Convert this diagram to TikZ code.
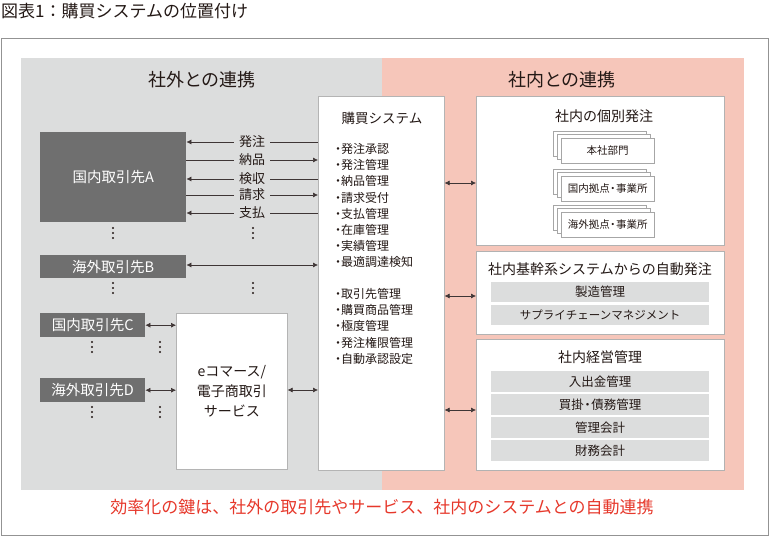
\documentclass[tikz,border=0pt]{standalone}
\usepackage{fontspec}
\setmainfont{Noto Sans CJK JP}
\usetikzlibrary{arrows.meta}

\definecolor{outgray}{HTML}{DCDDDD}
\definecolor{inpink}{HTML}{F6C6BA}
\definecolor{suppgray}{HTML}{6F6F6F}
\definecolor{inkdark}{HTML}{231815}
\definecolor{linkcol}{HTML}{3E3535}
\definecolor{edgegray}{HTML}{B4B4B4}
\definecolor{keyred}{HTML}{E6382B}

\newcommand\fsz[1]{\fontsize{#1}{#1}\selectfont}
\newcommand\dotstack[2]{\fill[inkdark] (#1,#2-5) circle (1.1pt) (#1,#2) circle (1.1pt) (#1,#2+5) circle (1.1pt);}
\newcommand\tightdot{\kern-0.2em・\kern-0.2em}

\tikzset{
  supp/.style={fill=suppgray, text=white, anchor=north west, inner sep=0pt, font=\fsz{14.5}},
  panel/.style={draw=edgegray, line width=0.6pt, fill=white, anchor=north west, inner sep=0pt},
  bar/.style={fill=outgray, anchor=north west, inner sep=0pt, minimum width=218pt, minimum height=21pt, font=\fsz{12.5}, text=inkdark},
  doc/.style={draw=gray!70, fill=white, anchor=north west, inner sep=0pt, minimum width=93pt, minimum height=25pt, font=\fsz{10.5}, text=inkdark},
  flow/.style={draw=linkcol, line width=0.6pt, -{Latex[length=5pt,width=5pt]}},
  twoway/.style={draw=linkcol, line width=0.6pt, {Latex[length=5pt,width=5pt]}-{Latex[length=5pt,width=5pt]}},
  flowlbl/.style={fill=outgray, inner xsep=5pt, inner ysep=0pt, font=\fsz{13}, text=inkdark},
  ttl/.style={font=\fsz{14}, text=inkdark},
  item/.style={anchor=west, inner sep=0pt, font=\fsz{12}, text=inkdark},
}

\begin{document}
\begin{tikzpicture}[x=1pt,y=-1pt]
\useasboundingbox (0,0) rectangle (769,537);
\node[anchor=west, inner sep=0pt, font=\fsz{17}, text=inkdark] (title) at (1,11) {図表1：購買システムの位置付け};
\draw[draw=gray!85, line width=0.8pt] (1,38) rectangle (768,535);
\fill[outgray] (21,58) rectangle (382,490);
\fill[inpink] (382,58) rectangle (744,490);
\node[font=\fsz{18}, text=inkdark] (outhead) at (202,80) {社外との連携};
\node[font=\fsz{18}, text=inkdark] (inhead) at (562,80) {社内との連携};

% suppliers
\node[supp, minimum width=146pt, minimum height=90pt] (supA) at (40,132) {国内取引先A};
\node[supp, minimum width=146pt, minimum height=23pt] (supB) at (40,255) {海外取引先B};
\node[supp, minimum width=105pt, minimum height=24pt] (supC) at (40,313) {国内取引先C};
\node[supp, minimum width=105pt, minimum height=24pt] (supD) at (40,378) {海外取引先D};
\node[panel, minimum width=111pt, minimum height=156pt, align=center, font=\fontsize{14}{20}\selectfont, text=inkdark] (ecom) at (176,313) {eコマース/\\電子商取引\\サービス};

% purchasing system
\node[panel, minimum width=126pt, minimum height=374pt] (sys) at (318,96) {};
\node[font=\fsz{13.5}, text=inkdark] (syshead) at (382,118) {購買システム};
\foreach \t [count=\i from 0] in {発注承認,発注管理,納品管理,請求受付,支払管理,在庫管理,実績管理,最適調達検知}
  \node[item] at (332,149+16.15*\i) {・\kern-3pt\t};
\foreach \t [count=\i from 0] in {取引先管理,購買商品管理,極度管理,発注権限管理,自動承認設定}
  \node[item] at (332,294+16.15*\i) {・\kern-3pt\t};

% in-house side
\node[panel, draw=gray!60, minimum width=248pt, minimum height=149pt] (ownOrder) at (476,96) {};
\node[ttl] at (604,116) {社内の個別発注};
\foreach \y/\t/\n in {138/本社部門/docHQ, 176/国内拠点\tightdot 事業所/docDom, 212/海外拠点\tightdot 事業所/docAbr} {
  \filldraw[draw=gray!70, fill=white] (553,\y-7) rectangle ++(93,25);
  \filldraw[draw=gray!70, fill=white] (557,\y-3.5) rectangle ++(93,25);
  \node[doc] (\n) at (561,\y) {\t};
}
\node[panel, draw=gray!60, minimum width=248pt, minimum height=83pt] (coreOrder) at (476,251) {};
\node[ttl] at (600,269) {社内基幹系システムからの自動発注};
\node[bar, minimum height=20pt] (mfg) at (491,282) {製造管理};
\node[bar, minimum height=20pt, font=\fsz{11.5}] (scm) at (491,305) {サプライチェーンマネジメント};
\node[panel, draw=gray!60, minimum width=248pt, minimum height=131pt] (mgmt) at (476,339) {};
\node[ttl] at (600,357) {社内経営管理};
\node[bar] (cash) at (491,371) {入出金管理};
\node[bar] (payable) at (491,394) {買掛\tightdot 債務管理};
\node[bar] (mgacc) at (491,417) {管理会計};
\node[bar] (finacc) at (491,440) {財務会計};

% connectors
\draw[flow] (sys.west |- 0,142) -- (supA.east |- 0,142) node[flowlbl, midway] {発注};
\draw[flow] (supA.east |- 0,160) -- (sys.west |- 0,160) node[flowlbl, midway] {納品};
\draw[flow] (sys.west |- 0,179) -- (supA.east |- 0,179) node[flowlbl, midway] {検収};
\draw[flow] (supA.east |- 0,195) -- (sys.west |- 0,195) node[flowlbl, midway] {請求};
\draw[flow] (sys.west |- 0,213) -- (supA.east |- 0,213) node[flowlbl, midway] {支払};
\draw[twoway] (supB.east |- 0,265) -- (sys.west |- 0,265);
\draw[twoway] (supC.east) -- (ecom.west |- supC.east);
\draw[twoway] (supD.east) -- (ecom.west |- supD.east);
\draw[twoway] (ecom.east |- 0,390) -- (sys.west |- 0,390);
\draw[twoway] (sys.east |- 0,183) -- (ownOrder.west |- 0,183);
\draw[twoway] (sys.east |- 0,296) -- (coreOrder.west |- 0,296);
\draw[twoway] (sys.east |- 0,410) -- (mgmt.west |- 0,410);

\dotstack{113}{233}
\dotstack{253}{233}
\dotstack{113}{288}
\dotstack{253}{288}
\dotstack{92}{347}
\dotstack{160}{347}
\dotstack{92}{412}
\dotstack{160}{412}

\node[font=\fsz{17}, text=keyred] (keyline) at (382,507) {効率化の鍵は、社外の取引先やサービス、社内のシステムとの自動連携};
\end{tikzpicture}
\end{document}
